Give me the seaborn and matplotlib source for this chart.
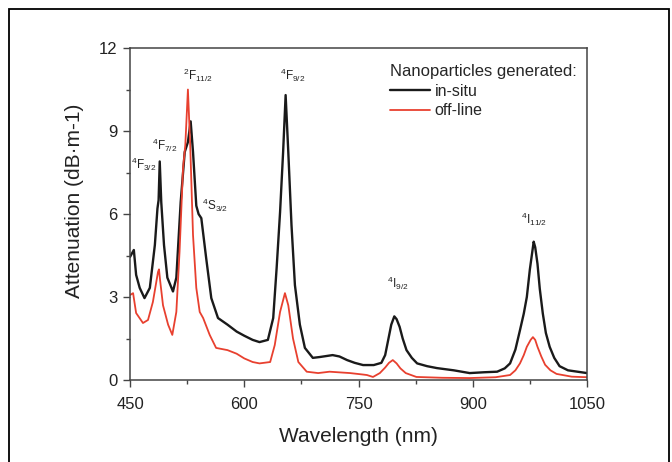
import pandas as pd
import matplotlib.pyplot as plt
import seaborn as sns
from matplotlib.patches import Rectangle
from matplotlib.ticker import MultipleLocator

# Wavelength (nm) / attenuation (dB/m)
insitu_nm = [450, 455, 458, 462.7, 469, 476, 482.6, 486, 487.5, 489,
             491, 494.6, 499, 506.4, 510.8, 516.5, 521.8, 526, 529.6, 532.7,
             537, 540, 543.6, 550, 556.7, 565.5, 578, 590, 600, 611,
             620, 631, 638, 642.5, 647, 651, 654.3, 657.8, 662, 666.5,
             673, 679.6, 690, 699, 716, 725, 735, 745, 756, 770,
             780, 785, 789, 793, 797, 800, 804, 808, 813, 820,
             827, 840, 853, 875, 896, 915, 932, 942, 949, 956,
             962, 967, 971, 975, 978, 980, 982, 985, 988, 992,
             996, 1001, 1007, 1014, 1025, 1050]
insitu_att = [4.45, 4.7, 3.8, 3.33, 2.96, 3.33, 4.88, 6.2, 6.5, 7.9,
              6.43, 4.88, 3.7, 3.2, 3.7, 6.43, 8.24, 8.6, 9.35, 8.24,
              6.3, 6.0, 5.85, 4.4, 2.96, 2.24, 2.0, 1.75, 1.6, 1.45,
              1.37, 1.45, 2.24, 4.05, 6.07, 8.24, 10.3, 8.24, 5.6, 3.43,
              2.0, 1.16, 0.8, 0.83, 0.9, 0.85, 0.72, 0.62, 0.54, 0.54,
              0.62, 0.9, 1.45, 2.0, 2.3, 2.2, 1.92, 1.5, 1.08, 0.8,
              0.6, 0.5, 0.43, 0.35, 0.25, 0.28, 0.3, 0.42, 0.6, 1.1,
              1.8, 2.4, 3.0, 4.0, 4.6, 5.0, 4.8, 4.2, 3.3, 2.4,
              1.7, 1.2, 0.8, 0.5, 0.35, 0.25]

offline_nm = [450, 454, 458, 467, 473.6, 480, 486.7, 488, 489.5, 493.3,
              500, 505.5, 510.8, 515, 519.6, 522.6, 526, 529, 532.7, 537,
              541.5, 546, 554.6, 563, 578, 590, 600, 611, 620, 634,
              640, 647, 653.4, 657.8, 664, 671, 682, 697, 712, 739,
              755, 761, 769, 778, 785, 790, 795, 800, 805, 812,
              826, 860, 896, 930, 949, 956, 962, 967, 971, 976,
              979, 982, 985, 990, 995, 1002, 1010, 1030, 1050]
offline_att = [3.07, 3.14, 2.42, 2.06, 2.17, 2.82, 3.9, 4.0, 3.6, 2.7,
               2.0, 1.63, 2.46, 4.63, 7.66, 8.5, 10.5, 8.5, 5.24, 3.33,
               2.46, 2.24, 1.63, 1.16, 1.08, 0.95, 0.78, 0.65, 0.6, 0.65,
               1.26, 2.46, 3.14, 2.7, 1.5, 0.65, 0.3, 0.25, 0.3, 0.25,
               0.2, 0.18, 0.11, 0.25, 0.45, 0.62, 0.72, 0.6, 0.42, 0.25,
               0.11, 0.08, 0.07, 0.1, 0.18, 0.35, 0.6, 0.9, 1.2, 1.45,
               1.55, 1.45, 1.2, 0.85, 0.55, 0.35, 0.22, 0.12, 0.1]

# peak labels: text, wavelength, attenuation
peak_labels = [r'$^4$F$_{3/2}$', r'$^4$F$_{7/2}$', r'$^2$F$_{11/2}$', r'$^4$S$_{3/2}$',
               r'$^4$F$_{9/2}$', r'$^4$I$_{9/2}$', r'$^4$I$_{11/2}$']
peak_x = [468, 496, 539, 562, 663, 802, 981]
peak_y = [7.8, 8.5, 11.0, 6.3, 11.0, 3.5, 5.8]

sns.set_style("ticks")
plt.rcParams['font.family'] = ['Liberation Sans', 'DejaVu Sans']
plt.rcParams['mathtext.fontset'] = 'custom'
plt.rcParams['mathtext.rm'] = 'Liberation Sans'
plt.rcParams['mathtext.it'] = 'Liberation Sans'

df_in = pd.DataFrame({'nm': insitu_nm, 'att': insitu_att})
df_off = pd.DataFrame({'nm': offline_nm, 'att': offline_att})

fig = plt.figure(figsize=(6.72, 4.62), dpi=100)
ax = fig.add_axes([0.1935, 0.1775, 0.68, 0.7185])

sns.lineplot(data=df_in, x='nm', y='att', ax=ax, color='#1a1a1a', lw=1.7,
             sort=False, estimator=None, label='in-situ')
sns.lineplot(data=df_off, x='nm', y='att', ax=ax, color='#e8402f', lw=1.3,
             sort=False, estimator=None, label='off-line')

ax.set_xlim(450, 1050)
ax.set_ylim(0, 12)
ax.xaxis.set_major_locator(MultipleLocator(150))
ax.xaxis.set_minor_locator(MultipleLocator(75))
ax.yaxis.set_major_locator(MultipleLocator(3))
ax.yaxis.set_minor_locator(MultipleLocator(1.5))
ax.tick_params(which='major', length=5, width=1, labelsize=12, color='#444444',
               labelcolor='#222222')
ax.tick_params(axis='x', which='major', pad=7)
ax.tick_params(axis='y', which='major', pad=4)
ax.tick_params(which='minor', length=3, width=1, color='#444444')
ax.tick_params(top=False, right=False, which='both')
for s in ax.spines.values():
    s.set_color('#444444')
    s.set_linewidth(1.1)

ax.set_xlabel('Wavelength (nm)', fontsize=15, labelpad=11, color='#222222')
ax.set_ylabel('Attenuation (dB·m-1)', fontsize=15, color='#222222')
ax.yaxis.set_label_coords(-0.10, 0.54)

for txt, x, y in zip(peak_labels, peak_x, peak_y):
    ax.text(x, y, txt, fontsize=8.5, ha='center', va='center', color='#222222')

leg = ax.legend(title='Nanoparticles generated:', loc='upper left',
                bbox_to_anchor=(0.555, 0.972), frameon=False, alignment='left',
                fontsize=11.5, title_fontsize=12, handlelength=2.5,
                handletextpad=0.3, labelspacing=0.3, borderaxespad=0)

# outer frame of the figure panel
fig.patches.append(Rectangle((9 / 672, -0.1), 660 / 672, 1.1 - 9 / 462,
                             transform=fig.transFigure, fill=False,
                             edgecolor='black', lw=1.3))

fig.savefig('out.png', dpi=100)
